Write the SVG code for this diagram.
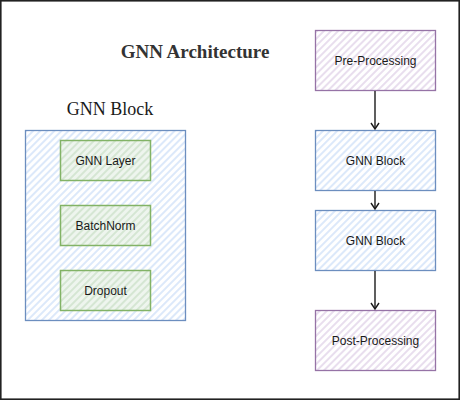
<svg xmlns="http://www.w3.org/2000/svg" width="461" height="401" viewBox="0 0 461 401">
<style>
.lbl{font-family:"Liberation Sans",Arial,sans-serif;font-size:12px;fill:#1a1a1a;text-anchor:middle;dominant-baseline:central}
.blue{stroke:#6c8ebf;stroke-width:1.3}
.green{stroke:#82b366;stroke-width:1.5}
.purple{stroke:#9673a6;stroke-width:1.3}
.conn{stroke:#1a1a1a;stroke-width:1.4;fill:none}
</style>
<defs>
<pattern id="hb" width="5" height="5" patternUnits="userSpaceOnUse" patternTransform="rotate(45)"><line x1="1" y1="0" x2="1" y2="5" stroke="#d3e3f9" stroke-width="1.6"/></pattern>
<pattern id="hg" width="5" height="5" patternUnits="userSpaceOnUse" patternTransform="rotate(45)"><rect width="5" height="5" fill="#eef5ee"/><line x1="1" y1="0" x2="1" y2="5" stroke="#cfe3cd" stroke-width="1.6"/></pattern>
<pattern id="hp" width="5" height="5" patternUnits="userSpaceOnUse" patternTransform="rotate(45)"><line x1="1" y1="0" x2="1" y2="5" stroke="#e3d6ea" stroke-width="1.6"/></pattern>
<marker id="ah" markerWidth="10" markerHeight="10" refX="8" refY="5" orient="auto" markerUnits="userSpaceOnUse"><path d="M2,1 L8,5 L2,9" fill="none" stroke="#1a1a1a" stroke-width="1.4"/></marker>
</defs>
<rect x="0.8" y="0.8" width="458.4" height="398.4" fill="#ffffff" stroke="#222" stroke-width="1.6"/>
<text x="195" y="51" font-family="'Liberation Serif','Times New Roman',serif" font-size="19" font-weight="bold" fill="#333" text-anchor="middle" dominant-baseline="central">GNN Architecture</text>
<g id="gnn-block-detail">
<text x="110" y="109" font-family="'Liberation Serif','Times New Roman',serif" font-size="18" fill="#1a1a1a" text-anchor="middle" dominant-baseline="central">GNN Block</text>
<rect x="25.5" y="130.5" width="160" height="190" fill="url(#hb)" class="blue"/>
</g>
<g id="gnn-layer"><rect x="60.5" y="140.5" width="90" height="40" fill="url(#hg)" class="green"/><text x="105.5" y="160.5" class="lbl">GNN Layer</text></g>
<g id="batchnorm"><rect x="60.5" y="205.5" width="90" height="40" fill="url(#hg)" class="green"/><text x="105.5" y="225.5" class="lbl">BatchNorm</text></g>
<g id="dropout"><rect x="60.5" y="270.5" width="90" height="40" fill="url(#hg)" class="green"/><text x="105.5" y="290.5" class="lbl">Dropout</text></g>
<g id="pre"><rect x="315.5" y="30.5" width="120" height="60" fill="url(#hp)" class="purple"/><text x="375.5" y="60.5" class="lbl">Pre-Processing</text></g>
<g id="block1"><rect x="315.5" y="130.5" width="120" height="60" fill="url(#hb)" class="blue"/><text x="375.5" y="160.5" class="lbl">GNN Block</text></g>
<g id="block2"><rect x="315.5" y="210.5" width="120" height="60" fill="url(#hb)" class="blue"/><text x="375.5" y="240.5" class="lbl">GNN Block</text></g>
<g id="post"><rect x="315.5" y="310.5" width="120" height="60" fill="url(#hp)" class="purple"/><text x="375.5" y="340.5" class="lbl">Post-Processing</text></g>
<g id="connectors">
<line x1="375" y1="91" x2="375" y2="129" class="conn" marker-end="url(#ah)"/>
<line x1="375" y1="191" x2="375" y2="209" class="conn" marker-end="url(#ah)"/>
<line x1="375" y1="271" x2="375" y2="309" class="conn" marker-end="url(#ah)"/>
</g>
</svg>
